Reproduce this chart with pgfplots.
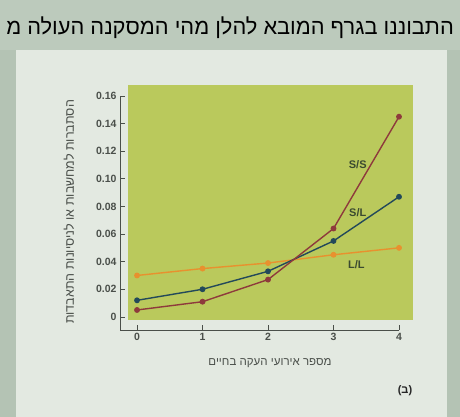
\documentclass[border=0pt]{standalone}
\usepackage{pgfplots}
\pgfplotsset{compat=1.18}
\usepackage{fontspec}
\setmainfont{Liberation Sans}
\newfontfamily\hebfont[Script=Hebrew]{Liberation Sans}
\TeXXeTstate=1
\definecolor{outerbg}{HTML}{B4C3B4}
\definecolor{topband}{HTML}{BCCABC}
\definecolor{pagebg}{HTML}{E3E9E1}
\definecolor{plotbg}{HTML}{BAC95C}
\definecolor{ssc}{HTML}{8E3A3C}
\definecolor{slc}{HTML}{23495A}
\definecolor{llc}{HTML}{E8912E}
\definecolor{axc}{HTML}{4A4F4A}
\definecolor{lblc}{HTML}{3B4A30}
\begin{document}
\begin{tikzpicture}[x=1pt,y=1pt]
\clip (0,0) rectangle (460,417);
\fill[outerbg] (0,0) rectangle (460,417);
\fill[topband] (0,367) rectangle (460,417);
\fill[pagebg] (16,0) rectangle (447,367);
\node[anchor=east,font=\hebfont\fontsize{21.8}{24}\selectfont,inner sep=0pt] at (454,389) {\beginR התבוננו בגרף המובא להלן מהי המסקנה העולה מ\endR};
\fill[plotbg] (128,97) rectangle (413,332);
\begin{axis}[
  at={(120pt,87pt)}, anchor=south west,
  width=279pt, height=234pt, scale only axis,
  xmin=-0.26, xmax=4, ymin=-0.0095, ymax=0.16,
  axis x line*=bottom, axis y line*=left,
  axis line style={axc, line width=0.8pt},
  xtick={0,1,2,3,4}, xticklabels={0,1,2,3,4},
  ytick={0,0.02,0.04,0.06,0.08,0.10,0.12,0.14,0.16},
  yticklabels={0,0.02,0.04,0.06,0.08,0.10,0.12,0.14,0.16},
  tick style={axc, line width=0.7pt},
  major tick length=5pt,
  tick align=inside,
  ticklabel style={font=\bfseries\fontsize{10.5}{12}\selectfont, text=axc},
  clip=false,
]
\addplot[color=llc, line width=1.4pt, mark=*, mark size=2.2pt] coordinates {(0,0.030) (1,0.035) (2,0.039) (3,0.045) (4,0.050)};
\addplot[color=slc, line width=1.4pt, mark=*, mark size=2.2pt] coordinates {(0,0.012) (1,0.020) (2,0.033) (3,0.055) (4,0.087)};
\addplot[color=ssc, line width=1.4pt, mark=*, mark size=2.2pt] coordinates {(0,0.005) (1,0.011) (2,0.027) (3,0.064) (4,0.145)};
\node[font=\bfseries\fontsize{11}{12}\selectfont, text=lblc] at (axis cs:3.37,0.110) {S/S};
\node[font=\bfseries\fontsize{11}{12}\selectfont, text=lblc] at (axis cs:3.37,0.0756) {S/L};
\node[font=\bfseries\fontsize{11}{12}\selectfont, text=lblc] at (axis cs:3.35,0.038) {L/L};
\end{axis}
\node[font=\hebfont\fontsize{11.5}{13}\selectfont, text=axc] at (270,54) {\beginR מספר אירועי העקה בחיים\endR};
\node[font=\hebfont\fontsize{12.5}{14}\selectfont, text=axc, rotate=90] at (69,205) {\beginR הסתברות למחשבות או לניסיונות התאבדות\endR};
\node[font=\hebfont\bfseries\fontsize{11}{12}\selectfont, text=black!85] at (405,26) {(ב)};
\end{tikzpicture}
\end{document}
